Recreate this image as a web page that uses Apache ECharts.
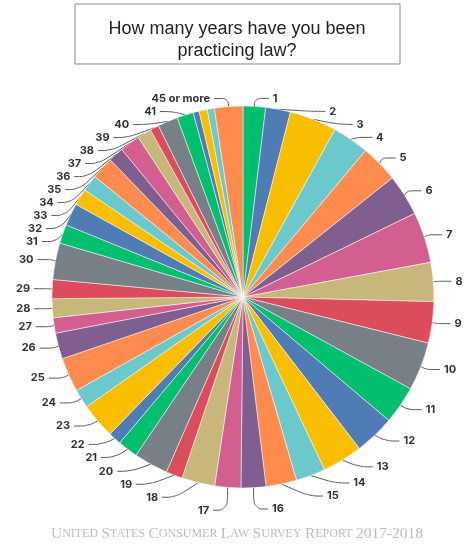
<!DOCTYPE html>
<html>
<head>
<meta charset="utf-8">
<script src="https://cdn.jsdelivr.net/npm/echarts@6/dist/echarts.min.js"></script>
<style>
  html, body { margin: 0; padding: 0; background: #fff; }
  #chart { width: 474px; height: 547px; }
</style>
</head>
<body>
<div id="chart"></div>
<script>
// years of practice (share of respondents)
const years = ['1', '2', '3', '4', '5', '6', '7', '8', '9', '10',
  '11', '12', '13', '14', '15', '16', '17', '18', '19', '20',
  '21', '22', '23', '24', '25', '26', '27', '28', '29', '30',
  '31', '32', '33', '34', '35', '36', '37', '38', '39', '40',
  '41', '42', '43', '44', '45 or more']
const shares = [1.9, 2.1, 4.0, 3.1, 3.2, 3.5, 4.3, 3.3, 3.5, 4.1,
  3.2, 3.4, 3.4, 2.5, 2.6, 2.1, 2.2, 2.8, 1.4, 2.9,
  1.7, 1.1, 3.0, 1.6, 2.9, 2.2, 1.3, 1.6, 1.6, 3.1,
  1.6, 1.9, 1.4, 1.4, 1.9, 1.3, 1.7, 1.2, 0.75, 1.7,
  1.4, 0.5, 0.7, 0.6, 2.4]
// these small slices carry no label in the original
const unlabeled = ['42', '43', '44']

const palette = ['#00bf6f', '#507cb6', '#f9be00', '#6bc8cd', '#ff8b4f',
  '#7f5f90', '#d25f90', '#c8b77a', '#db4d5c', '#768086']

const chart = echarts.init(document.getElementById('chart'))

const pieData = years.map((name, i) => {
  const item = { name, value: shares[i] }
  if (unlabeled.includes(name)) {
    item.label = { show: false }
    item.labelLine = { show: false }
  }
  return item
})

chart.setOption({
  animation: false,
  color: palette,
  title: {
    text: 'How many years have you been\npracticing law?',
    left: 'center',
    top: 13,
    textStyle: {
      fontFamily: 'Liberation Sans',
      fontSize: 18,
      fontWeight: 'normal',
      color: '#222',
      lineHeight: 22
    }
  },
  graphic: [
    {
      type: 'rect',
      shape: { x: 75, y: 4, width: 325, height: 60 },
      style: { fill: 'none', stroke: '#888', lineWidth: 1 }
    },
    {
      type: 'text',
      left: 'center',
      top: 526,
      style: {
        text: '{b|U}{s|NITED} {b|S}{s|TATES} {b|C}{s|ONSUMER} {b|L}{s|AW} {b|S}{s|URVEY} {b|R}{s|EPORT} {b|2017-2018}',
        rich: {
          b: { fontFamily: 'Liberation Serif', fontSize: 15.5, fill: '#bdbdbd' },
          s: { fontFamily: 'Liberation Serif', fontSize: 12, fill: '#bdbdbd' }
        }
      }
    }
  ],
  series: [{
    type: 'pie',
    center: [243, 297],
    radius: [0, 191],
    startAngle: 90,
    clockwise: true,
    avoidLabelOverlap: true,
    itemStyle: { borderColor: '#fff', borderWidth: 0.5 },
    label: {
      show: true,
      color: '#333',
      fontFamily: 'Inter',
      fontWeight: 'bold',
      fontSize: 11,
      overflow: 'none',
      distanceToLabelLine: 4
    },
    labelLine: {
      show: true,
      length: 8,
      length2: 14,
      smooth: 0.4,
      lineStyle: { color: '#555', width: 1 }
    },
    data: pieData
  }]
})
</script>
</body>
</html>
